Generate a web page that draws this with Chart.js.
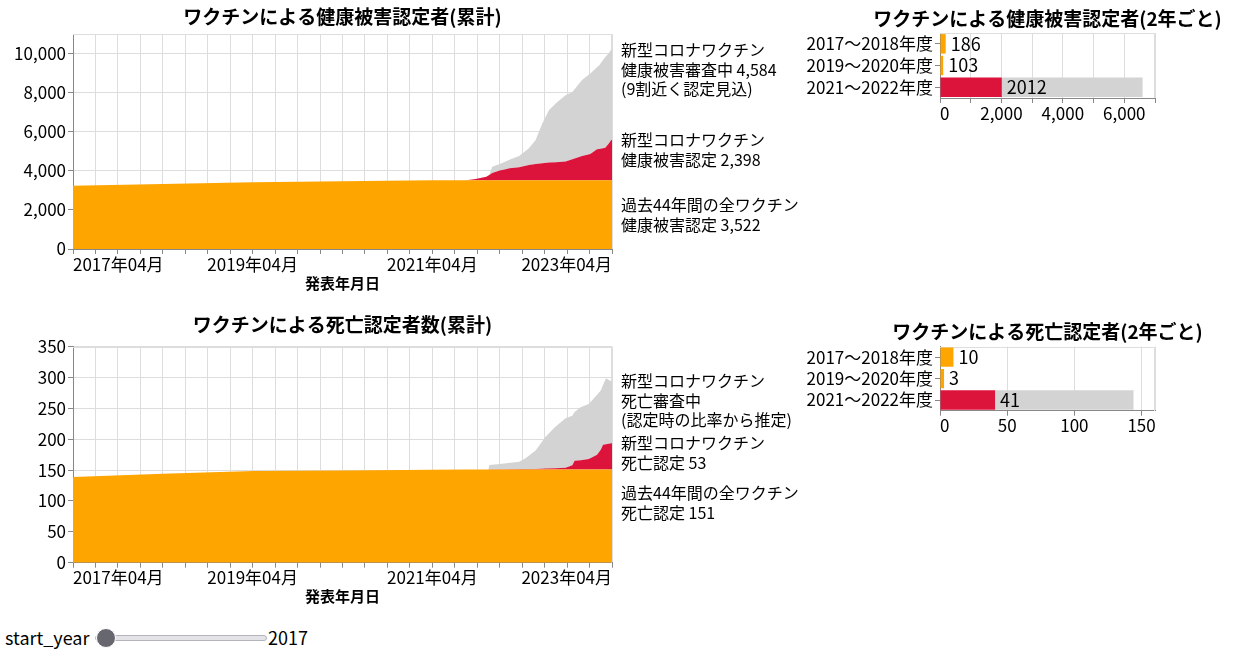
<!DOCTYPE html>
<html lang="ja">
<head>
<meta charset="utf-8">
<title>ワクチンによる健康被害認定者</title>
<script src="https://cdn.jsdelivr.net/npm/chart.js@4.4.1/dist/chart.umd.min.js"></script>
<style>
  html, body { margin: 0; padding: 0; background: #fff; overflow: hidden; }
  body { width: 1238px; height: 649px; position: relative; font-family: "Noto Sans CJK JP", "Noto Sans", sans-serif; color: #000; }
  canvas { position: absolute; }
  .note { position: absolute; left: 621px; font-size: 16px; line-height: 19.5px; white-space: nowrap; }
  .ctl { position: absolute; font-size: 18px; line-height: 22px; }
  input[type=range] {
    -webkit-appearance: none; appearance: none; position: absolute;
    left: 95px; top: 635px; width: 170px; height: 4px; margin: 0;
    background: #e4e4e8; border: 1px solid #b4b4bc; border-radius: 3px;
  }
  input[type=range]::-webkit-slider-thumb {
    -webkit-appearance: none; appearance: none; width: 20px; height: 20px;
    border-radius: 50%; background: #67676f; border: 1px solid #fff;
  }
</style>
</head>
<body>
<canvas id="health-chart" width="685" height="300" style="left:0;top:0"></canvas>
<canvas id="health-bar" width="438" height="130" style="left:800px;top:0"></canvas>
<canvas id="death-chart" width="685" height="300" style="left:0;top:310px"></canvas>
<canvas id="death-bar" width="438" height="130" style="left:800px;top:310px"></canvas>

<div class="note" style="top:40px">新型コロナワクチン<br>健康被害審査中 4,584<br>(9割近く認定見込)</div>
<div class="note" style="top:130px">新型コロナワクチン<br>健康被害認定 2,398</div>
<div class="note" style="top:195px">過去44年間の全ワクチン<br>健康被害認定 3,522</div>
<div class="note" style="top:371px">新型コロナワクチン<br>死亡審査中<br>(認定時の比率から推定)</div>
<div class="note" style="top:433px">新型コロナワクチン<br>死亡認定 53</div>
<div class="note" style="top:483px">過去44年間の全ワクチン<br>死亡認定 151</div>

<span class="ctl" style="left:5px;top:626px">start_year</span>
<input type="range" min="2017" max="2023" step="1" value="2017">
<span class="ctl" style="left:268px;top:626px">2017</span>

<script>
// cumulative health damage certifications
const healthDates = ['2017-04-01', '2018-04-01', '2019-04-01', '2020-04-01', '2021-04-01', '2021-08-16',
  '2021-09-25', '2021-11-07', '2021-11-19', '2021-12-01', '2022-01-01', '2022-01-25', '2022-02-10',
  '2022-03-19', '2022-04-28', '2022-05-25', '2022-06-22', '2022-07-19', '2022-08-16', '2022-09-25',
  '2022-10-22', '2022-12-01', '2023-01-04', '2023-02-01', '2023-02-10', '2023-03-04', '2023-03-19',
  '2023-03-28', '2023-04-01'];
const healthPast = [3230, 3320, 3420, 3460, 3512, 3522, 3522, 3522, 3522, 3522, 3522, 3522, 3522, 3522,
  3522, 3522, 3522, 3522, 3522, 3522, 3522, 3522, 3522, 3522, 3522, 3522, 3522, 3522, 3522];
const healthCovid = [0, 0, 0, 0, 0, 0, 65, 180, 270, 360, 490, 560, 610, 660, 780, 830, 870, 900, 920,
  950, 1070, 1240, 1340, 1580, 1600, 1660, 1890, 2060, 2060];
const healthPending = [0, 0, 0, 0, 0, 0, 0, 0, 0, 330, 340, 390, 430, 580, 850, 1220, 2040, 2690, 3010,
  3400, 3440, 3880, 4120, 4200, 4280, 4640, 4620, 4630, 4630];

// cumulative death certifications
const deathDates = ['2017-04-01', '2018-04-01', '2019-04-01', '2020-04-01', '2021-04-01', '2021-08-16',
  '2021-11-16', '2021-11-19', '2022-01-01', '2022-03-19', '2022-04-13', '2022-05-25', '2022-07-04',
  '2022-08-13', '2022-09-25', '2022-10-22', '2022-11-01', '2022-11-25', '2022-12-28', '2023-02-01',
  '2023-02-16', '2023-02-25', '2023-03-07', '2023-03-28', '2023-04-01'];
const deathPast = [139, 144, 148.5, 149.5, 150.5, 151, 151, 151, 151, 151, 151, 151, 151, 151, 151, 151,
  151, 151, 151, 151, 151, 151, 151, 151, 151];
const deathCovid = [0, 0, 0, 0, 0, 0, 0, 0.3, 0.5, 0.7, 0.8, 1, 1.5, 2, 3, 7, 14, 15, 17, 24, 32, 40, 41,
  42.5, 42.5];
const deathPending = [0, 0, 0, 0, 0, 0, 0, 7, 8.5, 12, 17, 30, 51, 67, 80, 80, 79, 86, 89, 97, 96, 97,
  107, 100, 100];

// two-year totals
const periods = ['2017～2018年度', '2019～2020年度', '2021～2022年度'];
const healthBarPast = [186, 103, null];
const healthBarCovid = [null, null, 2012];
const healthBarPending = [null, null, 4584];
const deathBarPast = [10, 3, null];
const deathBarCovid = [null, null, 41];
const deathBarPending = [null, null, 103];

// ticks
const xLabelMonths = ['2017-04-01', '2019-04-01', '2021-04-01', '2023-04-01'];
const healthYTicks = [0, 2000, 4000, 6000, 8000, 10000];
const deathYTicks = [0, 50, 100, 150, 200, 250, 300, 350];
const healthBarTicks = [0, 1000, 2000, 3000, 4000, 5000, 6000, 7000];
const healthBarLabels = [0, 2000, 4000, 6000];
const deathBarTicks = [0, 50, 100, 150, 160];
const deathBarLabels = [0, 50, 100, 150];

const FONT = '"Noto Sans CJK JP", "Noto Sans", sans-serif';
Chart.defaults.font.family = FONT;
Chart.defaults.font.size = 17;
Chart.defaults.color = '#000';

function monthsFrom(d) {
  const [y, m, day] = d.split('-').map(Number);
  return (y - 2017) * 12 + (m - 4) + (day - 1) / 30;
}

const END = monthsFrom('2023-04-01');
const xTicks = [];
for (let v = 0; v <= END; v += 3) xTicks.push(v);
const xLabels = xLabelMonths.map(monthsFrom);

function monthLabel(v) {
  const y = 2017 + Math.floor((v + 3) / 12);
  const m = (v + 3) % 12 + 1;
  return y + '年' + String(m).padStart(2, '0') + '月';
}

const plotTitle = {
  id: 'plotTitle',
  afterDraw(chart, args, opts) {
    const { ctx, chartArea } = chart;
    ctx.save();
    ctx.font = 'bold 19px ' + FONT;
    ctx.fillStyle = '#000';
    ctx.textAlign = 'center';
    ctx.textBaseline = 'middle';
    ctx.fillText(opts.text, (chartArea.left + chartArea.right) / 2, opts.y);
    ctx.restore();
  }
};

const viewFrame = {
  id: 'viewFrame',
  beforeDatasetsDraw(chart) {
    const { ctx, chartArea: a } = chart;
    ctx.save();
    ctx.strokeStyle = '#ddd';
    ctx.lineWidth = 1;
    ctx.beginPath();
    ctx.moveTo(Math.round(a.left), Math.round(a.top) + 0.5);
    ctx.lineTo(Math.round(a.right) - 0.5, Math.round(a.top) + 0.5);
    ctx.lineTo(Math.round(a.right) - 0.5, Math.round(a.bottom));
    ctx.stroke();
    ctx.restore();
  }
};

const barLabels = {
  id: 'barLabels',
  afterDatasetsDraw(chart) {
    const { ctx } = chart;
    ctx.save();
    ctx.font = '18px ' + FONT;
    ctx.fillStyle = '#000';
    ctx.textAlign = 'left';
    ctx.textBaseline = 'middle';
    [0, 1].forEach(function (i) {
      const values = chart.data.datasets[i].data;
      chart.getDatasetMeta(i).data.forEach(function (bar, j) {
        if (values[j] === null) return;
        ctx.fillText(String(values[j]), bar.x + 5, bar.y);
      });
    });
    ctx.restore();
  }
};

function points(dates, values) {
  return dates.map(function (d, i) { return { x: monthsFrom(d), y: values[i] }; });
}

function areaChart(id, title, dates, past, covid, pending, yMax, yTicks, lay) {
  const area = { type: 'line', pointRadius: 0, borderWidth: 0, tension: 0 };
  return new Chart(document.getElementById(id), {
    type: 'line',
    data: {
      datasets: [
        Object.assign({ label: 'past', data: points(dates, past), backgroundColor: '#FFA500', fill: 'origin' }, area),
        Object.assign({ label: 'covid', data: points(dates, covid), backgroundColor: '#DC143C', fill: '-1' }, area),
        Object.assign({ label: 'pending', data: points(dates, pending), backgroundColor: '#D3D3D3', fill: '-1' }, area)
      ]
    },
    options: {
      responsive: false,
      animation: false,
      events: [],
      layout: { padding: { left: 0, top: lay.top, right: 73, bottom: 0 } },
      scales: {
        x: {
          type: 'linear',
          min: 0,
          max: END,
          afterBuildTicks: function (scale) { scale.ticks = xTicks.map(function (v) { return { value: v }; }); },
          afterFit: function (scale) { scale.height = lay.xHeight; },
          grid: { color: '#ddd', tickColor: '#888', tickLength: 5 },
          border: { color: '#888' },
          ticks: {
            autoSkip: false,
            maxRotation: 0,
            align: 'inner',
            padding: 0,
            callback: function (v) { return xLabels.includes(v) ? monthLabel(v) : ''; }
          },
          title: { display: true, text: '発表年月日', font: { size: 15, weight: 'bold' }, padding: { top: 0, bottom: lay.titlePad } }
        },
        y: {
          stacked: true,
          min: 0,
          max: yMax,
          afterBuildTicks: function (scale) { scale.ticks = yTicks.map(function (v) { return { value: v }; }); },
          afterFit: function (scale) { scale.width = 73; },
          grid: { color: '#ddd', tickColor: '#888', tickLength: 5 },
          border: { color: '#888' },
          ticks: { padding: 2, callback: function (v) { return v.toLocaleString('en-US'); } }
        }
      },
      plugins: {
        legend: { display: false },
        tooltip: { enabled: false },
        plotTitle: { text: title, y: lay.titleY }
      }
    },
    plugins: [plotTitle, viewFrame]
  });
}

function barChart(id, title, past, covid, pending, xMax, xTicksList, xLabelList, lay) {
  const bar = { barPercentage: 0.9, categoryPercentage: 1, borderWidth: 0 };
  return new Chart(document.getElementById(id), {
    type: 'bar',
    data: {
      labels: periods,
      datasets: [
        Object.assign({ label: 'past', data: past, backgroundColor: '#FFA500' }, bar),
        Object.assign({ label: 'covid', data: covid, backgroundColor: '#DC143C' }, bar),
        Object.assign({ label: 'pending', data: pending, backgroundColor: '#D3D3D3' }, bar)
      ]
    },
    options: {
      indexAxis: 'y',
      responsive: false,
      animation: false,
      events: [],
      layout: { padding: { left: 0, top: lay.top, right: 83, bottom: 0 } },
      scales: {
        x: {
          stacked: true,
          min: 0,
          max: xMax,
          afterBuildTicks: function (scale) { scale.ticks = xTicksList.map(function (v) { return { value: v }; }); },
          afterFit: function (scale) { scale.height = lay.xHeight; },
          grid: {
            color: '#ddd',
            tickLength: 5,
            // the last tick only closes the frame, no tick mark below it
            tickColor: function (c) { return lay.hideLastTick && c.tick && c.tick.value === xMax ? 'rgba(0,0,0,0)' : '#888'; }
          },
          border: { color: '#888' },
          ticks: {
            autoSkip: false,
            maxRotation: 0,
            align: 'inner',
            padding: 0,
            callback: function (v) { return xLabelList.includes(v) ? v.toLocaleString('en-US') : ''; }
          }
        },
        y: {
          stacked: true,
          afterFit: function (scale) { scale.width = 140; },
          grid: { drawOnChartArea: false, offset: false, tickLength: 5, tickColor: '#888' },
          border: { color: '#888' },
          ticks: { autoSkip: false, padding: 2 }
        }
      },
      plugins: {
        legend: { display: false },
        tooltip: { enabled: false },
        plotTitle: { text: title, y: lay.titleY }
      }
    },
    plugins: [plotTitle, viewFrame, barLabels]
  });
}

areaChart('health-chart', 'ワクチンによる健康被害認定者(累計)', healthDates, healthPast, healthCovid, healthPending,
  11000, healthYTicks, { top: 34, xHeight: 51, titlePad: 8, titleY: 17 });
areaChart('death-chart', 'ワクチンによる死亡認定者数(累計)', deathDates, deathPast, deathCovid, deathPending,
  350, deathYTicks, { top: 36.7, xHeight: 47.3, titlePad: 5, titleY: 15 });
barChart('health-bar', 'ワクチンによる健康被害認定者(2年ごと)', healthBarPast, healthBarCovid, healthBarPending,
  7000, healthBarTicks, healthBarLabels, { top: 33, xHeight: 32, titleY: 18.3, hideLastTick: false });
barChart('death-bar', 'ワクチンによる死亡認定者(2年ごと)', deathBarPast, deathBarCovid, deathBarPending,
  160, deathBarTicks, deathBarLabels, { top: 36.5, xHeight: 29.3, titleY: 21.7, hideLastTick: true });
</script>
</body>
</html>
